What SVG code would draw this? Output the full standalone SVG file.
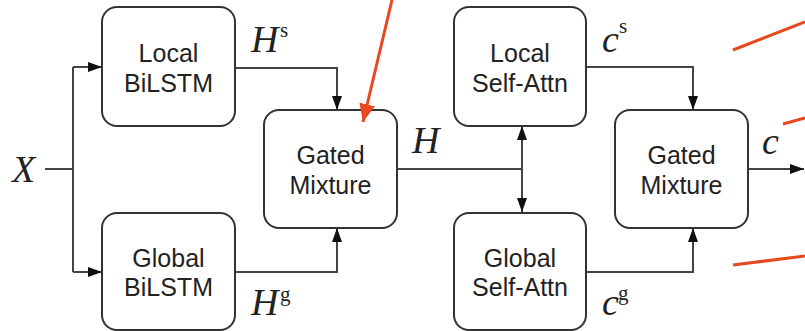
<svg xmlns="http://www.w3.org/2000/svg" width="805" height="331" viewBox="0 0 805 331">
  <style>
    .box { fill: #ffffff; stroke: #333333; stroke-width: 2; }
    .lbl { font-family: "Liberation Sans", Arial, sans-serif; font-size: 25px; fill: #222222; text-anchor: middle; }
    .wire { fill: none; stroke: #444444; stroke-width: 2; }
    .math { font-family: "Liberation Serif", "Times New Roman", serif; font-size: 38px; font-style: italic; font-weight: normal; fill: #222222; }
    .sup { font-family: "Liberation Serif", "Times New Roman", serif; font-size: 21px; font-style: normal; fill: #222222; }
    .note { fill: none; stroke: #E8481F; stroke-width: 3; }
  </style>
  <defs>
    <marker id="arrow" viewBox="0 0 14 10" refX="14" refY="5" markerWidth="14" markerHeight="10" markerUnits="userSpaceOnUse" orient="auto-start-reverse">
      <path d="M0,0 L14,5 L0,10 z" fill="#111111"/>
    </marker>
    <marker id="redArrow" viewBox="0 0 18 16" refX="18" refY="8" markerWidth="18" markerHeight="16" markerUnits="userSpaceOnUse" orient="auto">
      <path d="M0,0 L18,8 L0,16 z" fill="#E8481F"/>
    </marker>
  </defs>

  <!-- connectors -->
  <g id="connectors">
    <path class="wire" d="M45,169 H73"/>
    <path class="wire" d="M73,67 V272"/>
    <path class="wire" d="M73,67 H102" marker-end="url(#arrow)"/>
    <path class="wire" d="M73,272 H102" marker-end="url(#arrow)"/>
    <path class="wire" d="M235,68 H337 V110" marker-end="url(#arrow)"/>
    <path class="wire" d="M235,272 H337 V228" marker-end="url(#arrow)"/>
    <path class="wire" d="M397,169 H522"/>
    <path class="wire" d="M522,126 V212" marker-start="url(#arrow)" marker-end="url(#arrow)"/>
    <path class="wire" d="M586,67 H693 V110" marker-end="url(#arrow)"/>
    <path class="wire" d="M586,272 H693 V228" marker-end="url(#arrow)"/>
    <path class="wire" d="M748,169 H804" marker-end="url(#arrow)"/>
  </g>

  <!-- nodes -->
  <g id="local-bilstm">
    <rect class="box" x="102" y="7" width="133" height="119" rx="15"/>
    <text class="lbl" x="168.5" y="62">Local</text>
    <text class="lbl" x="168.5" y="92">BiLSTM</text>
  </g>
  <g id="global-bilstm">
    <rect class="box" x="102" y="213" width="133" height="117" rx="15"/>
    <text class="lbl" x="168.5" y="267">Global</text>
    <text class="lbl" x="168.5" y="296">BiLSTM</text>
  </g>
  <g id="gated-mixture-1">
    <rect class="box" x="264" y="110" width="133" height="118" rx="15"/>
    <text class="lbl" x="330.5" y="164">Gated</text>
    <text class="lbl" x="330.5" y="194">Mixture</text>
  </g>
  <g id="local-self-attn">
    <rect class="box" x="454" y="7" width="132" height="119" rx="15"/>
    <text class="lbl" x="520" y="62">Local</text>
    <text class="lbl" x="520" y="92">Self-Attn</text>
  </g>
  <g id="global-self-attn">
    <rect class="box" x="454" y="213" width="132" height="117" rx="15"/>
    <text class="lbl" x="520" y="267">Global</text>
    <text class="lbl" x="520" y="296">Self-Attn</text>
  </g>
  <g id="gated-mixture-2">
    <rect class="box" x="615" y="110" width="133" height="118" rx="15"/>
    <text class="lbl" x="681.5" y="164">Gated</text>
    <text class="lbl" x="681.5" y="194">Mixture</text>
  </g>

  <!-- variable labels -->
  <g id="labels">
    <text class="math" x="12" y="182">X</text>
    <text class="math" x="251" y="52">H</text>
    <text class="sup" x="280" y="37">s</text>
    <text class="math" x="251" y="315">H</text>
    <text class="sup" x="280" y="301">g</text>
    <text class="math" x="412" y="153">H</text>
    <text class="math" x="602" y="52">c</text>
    <text class="sup" x="619" y="33">s</text>
    <text class="math" x="602" y="315">c</text>
    <text class="sup" x="618" y="300">g</text>
    <text class="math" x="762" y="154">c</text>
  </g>

  <!-- annotation strokes -->
  <g id="annotations">
    <path class="note" d="M392,0 L363,122" marker-end="url(#redArrow)"/>
    <path class="note" d="M733,50 L805,22"/>
    <path class="note" d="M783,124 L805,118"/>
    <path class="note" d="M733,265 L805,256"/>
  </g>
</svg>
